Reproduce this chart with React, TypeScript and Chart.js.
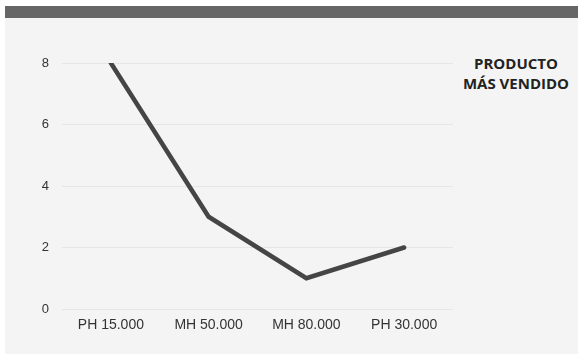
import React, { useEffect, useRef } from "react";
import { Chart, registerables } from "chart.js";

Chart.register(...registerables);

const categories = ["PH 15.000", "MH 50.000", "MH 80.000", "PH 30.000"];
const salesValues = [8, 3, 1, 2];
const yTicks = [0, 2, 4, 6, 8];
const legendLines = ["PRODUCTO", "MÁS VENDIDO"];

export default function App() {
  const ref = useRef<HTMLCanvasElement | null>(null);

  useEffect(() => {
    if (!ref.current) return;
    const chart = new Chart(ref.current, {
      type: "line",
      data: {
        labels: categories,
        datasets: [
          {
            label: legendLines.join(" "),
            data: salesValues,
            borderColor: "#454545",
            borderWidth: 4.5,
            pointRadius: 0,
            pointHoverRadius: 0,
            tension: 0,
            fill: false,
            borderCapStyle: "round",
            borderJoinStyle: "miter",
          },
        ],
      },
      options: {
        responsive: false,
        animation: false,
        maintainAspectRatio: false,
        layout: { padding: { left: 0, right: 125, top: 63, bottom: 0 } },
        plugins: {
          legend: { display: false },
          tooltip: { enabled: false },
          title: { display: false },
        },
        scales: {
          x: {
            type: "category",
            offset: true,
            grid: { display: false, drawTicks: false },
            border: { display: false },
            ticks: {
              padding: 8,
              color: "#333333",
              font: { family: "'Liberation Sans', Arial, sans-serif", size: 14 },
              maxRotation: 0,
            },
            afterFit: (axis: any) => {
              axis.height = 45;
            },
          },
          y: {
            min: 0,
            max: 8,
            afterBuildTicks: (axis: any) => {
              axis.ticks = yTicks.map((v) => ({ value: v }));
            },
            grid: { color: "#e6e6e6", lineWidth: 1, drawTicks: false },
            border: { display: false },
            ticks: {
              padding: 13,
              color: "#333333",
              font: { family: "'Liberation Sans', Arial, sans-serif", size: 13 },
            },
            afterFit: (axis: any) => {
              axis.width = 62;
            },
          },
        },
      },
    });
    return () => chart.destroy();
  }, []);

  return (
    <div
      style={{
        position: "fixed",
        left: 0,
        top: 0,
        width: 578,
        height: 354,
        background: "#ffffff",
        overflow: "hidden",
      }}
    >
      <div
        style={{
          position: "absolute",
          left: 5,
          top: 6,
          width: 573,
          height: 348,
          background: "#f4f4f4",
          borderTop: "12px solid #666666",
          boxSizing: "border-box",
        }}
      />
      <div
        style={{
          position: "absolute",
          left: 454,
          width: 124,
          top: 53,
          textAlign: "center",
          fontFamily: "'Open Sans', sans-serif",
          fontWeight: 700,
          fontSize: 15,
          lineHeight: "20px",
          color: "#222222",
        }}
      >
        {legendLines.map((l) => (
          <div key={l}>{l}</div>
        ))}
      </div>
      <canvas
        ref={ref}
        width={578}
        height={354}
        style={{ position: "absolute", left: 0, top: 0, width: 578, height: 354 }}
      />
    </div>
  );
}
